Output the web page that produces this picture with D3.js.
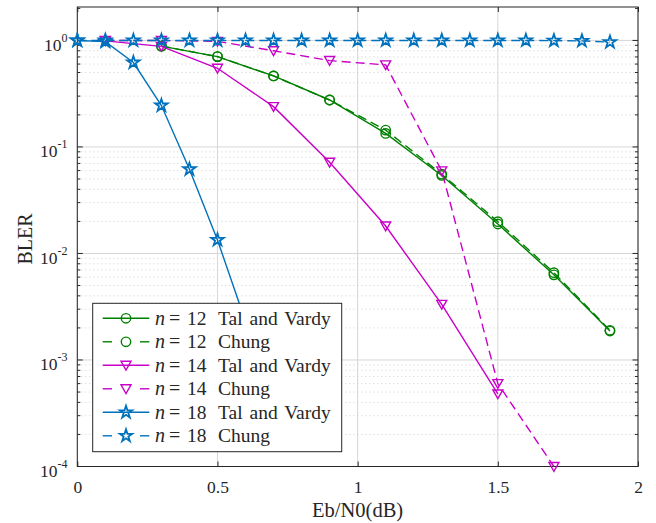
<!DOCTYPE html>
<html>
<head>
<meta charset="utf-8">
<script src="https://cdn.jsdelivr.net/npm/d3@7"></script>
<style>
  html, body { margin: 0; padding: 0; background: #fff; }
  svg { display: block; }
</style>
</head>
<body>
<svg id="chart" width="656" height="523" font-family="Liberation Serif"></svg>
<script>
// Eb/N0 values (dB) per series
const xN12 = [0.3, 0.5, 0.7, 0.9, 1.1, 1.3, 1.5, 1.7, 1.9];
const talVardyN12 = [0.885, 0.705, 0.464, 0.276, 0.134, 0.0540, 0.0189, 0.0063, 0.00187];
const chungN12 = [0.885, 0.705, 0.464, 0.276, 0.144, 0.0555, 0.0199, 0.0066, 0.00190];

const xN14TalVardy = [0.1, 0.3, 0.5, 0.7, 0.9, 1.1, 1.3, 1.5];
const talVardyN14 = [0.99, 0.88, 0.548, 0.239, 0.0718, 0.0181, 0.00333, 0.00048];
const xN14Chung = [0.1, 0.3, 0.5, 0.7, 0.9, 1.1, 1.3, 1.5, 1.7];
const chungN14 = [1.0, 1.0, 0.98, 0.80, 0.647, 0.589, 0.0596, 0.0006, 0.0001];

const xN18TalVardy = [0, 0.1, 0.2, 0.3, 0.4, 0.5, 0.6, 0.7];
const talVardyN18 = [1.0, 0.975, 0.62, 0.245, 0.0617, 0.0134, 0.0023, 0.0003];
const xN18Chung = [0, 0.1, 0.2, 0.3, 0.4, 0.5, 0.6, 0.7, 0.8, 0.9, 1.0, 1.1, 1.2, 1.3, 1.4, 1.5, 1.6, 1.7, 1.8, 1.9];
const chungN18 = [1.0, 1.0, 1.0, 1.0, 1.0, 1.0, 1.0, 1.0, 1.0, 1.0, 1.0, 1.0, 1.0, 1.0, 1.0, 1.0, 1.0, 0.995, 0.99, 0.965];

const seriesNames = [
  ["12", "Tal and Vardy"], ["12", "Chung"],
  ["14", "Tal and Vardy"], ["14", "Chung"],
  ["18", "Tal and Vardy"], ["18", "Chung"]
];

const xTickValues = [0, 0.5, 1, 1.5, 2];
const xTickLabels = ["0", "0.5", "1", "1.5", "2"];
const yDecadeExponents = [0, -1, -2, -3, -4];

const xLabel = "Eb/N0(dB)";
const yLabel = "BLER";

// colours and font
const GREEN = "#008000", MAGENTA = "#c800c8", BLUE = "#0072bd";
const AXIS = "#262626";
const FONT = "Liberation Serif";

const svg = d3.select("#chart");
const plotLeft = 77.3, plotRight = 638, plotTop = 7, plotBottom = 466.5;

const x = d3.scaleLinear().domain([0, 2]).range([plotLeft, plotRight]);
const y = d3.scaleLog().domain([1e-4, 2.06]).range([plotBottom, plotTop]);

// downward triangle marker
const triangleDown = {
  draw(ctx, size) {
    const s = Math.sqrt(size) / 2;
    ctx.moveTo(-s, -s * 0.8);
    ctx.lineTo(s, -s * 0.8);
    ctx.lineTo(0, s * 0.95);
    ctx.closePath();
  }
};

const markerPath = {
  circle: d3.symbol().type(d3.symbolCircle).size(Math.PI * 4.7 * 4.7)(),
  tri: d3.symbol().type(triangleDown).size(100)(),
  star: d3.symbol().type(d3.symbolStar).size(48)()
};

const series = [
  { xs: xN12, ys: talVardyN12, color: GREEN, dash: null, marker: "circle" },
  { xs: xN12, ys: chungN12, color: GREEN, dash: "9,5", marker: "circle" },
  { xs: xN14TalVardy, ys: talVardyN14, color: MAGENTA, dash: null, marker: "tri" },
  { xs: xN14Chung, ys: chungN14, color: MAGENTA, dash: "9,5", marker: "tri" },
  { xs: xN18TalVardy, ys: talVardyN18, color: BLUE, dash: null, marker: "star" },
  { xs: xN18Chung, ys: chungN18, color: BLUE, dash: "9,5", marker: "star" }
];

// ---- grid ----
const grid = svg.append("g");
// minor horizontal grid (dotted)
yDecadeExponents.forEach(e => {
  if (e === 0) return;
  for (let m = 2; m <= 9; m++) {
    const v = m * Math.pow(10, e);
    grid.append("line")
      .attr("x1", plotLeft).attr("x2", plotRight)
      .attr("y1", y(v)).attr("y2", y(v))
      .attr("stroke", "#c4c4c4").attr("stroke-width", 0.8)
      .attr("stroke-dasharray", "1,3");
  }
});
// major horizontal grid
yDecadeExponents.forEach(e => {
  const v = Math.pow(10, e);
  grid.append("line")
    .attr("x1", plotLeft).attr("x2", plotRight)
    .attr("y1", y(v)).attr("y2", y(v))
    .attr("stroke", "#d6d6d6").attr("stroke-width", 1);
});
// vertical grid
xTickValues.forEach(t => {
  grid.append("line")
    .attr("x1", x(t)).attr("x2", x(t))
    .attr("y1", plotTop).attr("y2", plotBottom)
    .attr("stroke", "#d6d6d6").attr("stroke-width", 1);
});

// ---- axes ----
const axes = svg.append("g");
const xAxisBottom = d3.axisBottom(x).tickValues(xTickValues)
  .tickFormat((d, i) => xTickLabels[i]).tickSizeInner(-5).tickSizeOuter(0).tickPadding(14);
const gx = axes.append("g").attr("transform", `translate(0,${plotBottom})`).call(xAxisBottom)
  .attr("font-family", FONT).attr("font-size", 17.5);
gx.select(".domain").remove();
gx.selectAll(".tick line").attr("stroke", AXIS);
gx.selectAll(".tick text").attr("fill", AXIS);

const xAxisTop = d3.axisTop(x).tickValues(xTickValues).tickFormat("").tickSizeInner(-5).tickSizeOuter(0);
const gxt = axes.append("g").attr("transform", `translate(0,${plotTop})`).call(xAxisTop);
gxt.select(".domain").remove();
gxt.selectAll(".tick line").attr("stroke", AXIS);

// y ticks (major + minor), left and right
const yMinor = [];
yDecadeExponents.forEach(e => {
  if (e === 0) return;
  for (let m = 2; m <= 9; m++) yMinor.push(m * Math.pow(10, e));
});
yMinor.push(2);
const yMajor = yDecadeExponents.map(e => Math.pow(10, e));

[[plotLeft, 1], [plotRight, -1]].forEach(([ax, dir]) => {
  yMajor.forEach(v => {
    axes.append("line").attr("x1", ax).attr("x2", ax + dir * 5.5)
      .attr("y1", y(v)).attr("y2", y(v)).attr("stroke", AXIS).attr("stroke-width", 1);
  });
  yMinor.filter(v => y(v) >= plotTop).forEach(v => {
    axes.append("line").attr("x1", ax).attr("x2", ax + dir * 3)
      .attr("y1", y(v)).attr("y2", y(v)).attr("stroke", AXIS).attr("stroke-width", 1);
  });
});

// y tick labels: 10^e
yDecadeExponents.forEach(e => {
  const v = Math.pow(10, e);
  const t = axes.append("text")
    .attr("x", 67.5).attr("y", y(v) + 10.5)
    .attr("text-anchor", "end").attr("font-size", 17.5)
    .attr("font-family", FONT).attr("fill", AXIS);
  t.append("tspan").text("10");
  t.append("tspan").attr("dy", -9).attr("font-size", 12).text(String(e));
});

// box
axes.append("rect")
  .attr("x", plotLeft).attr("y", plotTop)
  .attr("width", plotRight - plotLeft).attr("height", plotBottom - plotTop)
  .attr("fill", "none").attr("stroke", AXIS).attr("stroke-width", 1);

// axis labels
svg.append("text")
  .attr("x", (plotLeft + plotRight) / 2).attr("y", 517)
  .attr("text-anchor", "middle").attr("font-size", 20.5)
  .attr("font-family", FONT).attr("fill", AXIS)
  .text(xLabel);
svg.append("text")
  .attr("transform", `translate(32,239) rotate(-90)`)
  .attr("text-anchor", "middle").attr("font-size", 20)
  .attr("font-family", FONT).attr("fill", AXIS)
  .text(yLabel);

// ---- data ----
const line = d3.line().x(d => x(d[0])).y(d => y(d[1]));
const plot = svg.append("g");
series.forEach(s => {
  const pts = s.xs.map((v, i) => [v, s.ys[i]]);
  const g = plot.append("g");
  g.append("path")
    .attr("d", line(pts))
    .attr("fill", "none").attr("stroke", s.color).attr("stroke-width", 1.4)
    .attr("stroke-dasharray", s.dash);
  g.selectAll("path.mk").data(pts).join("path")
    .attr("class", "mk")
    .attr("d", markerPath[s.marker])
    .attr("transform", d => `translate(${x(d[0])},${y(d[1])})`)
    .attr("fill", "none").attr("stroke", s.color)
    .attr("stroke-width", s.marker === "star" ? 1.8 : 1.4);
});

// ---- legend ----
const lg = svg.append("g").attr("font-family", FONT);
const lx = 92.7, ly = 303.3, lw = 249, lh = 148.4;
lg.append("rect").attr("x", lx).attr("y", ly).attr("width", lw).attr("height", lh)
  .attr("fill", "#fff").attr("stroke", AXIS).attr("stroke-width", 1);
series.forEach((s, i) => {
  const ry = 318.3 + i * 23.5;
  const g = lg.append("g");
  if (s.dash) {
    g.append("line").attr("x1", 102.7).attr("x2", 112).attr("y1", ry).attr("y2", ry)
      .attr("stroke", s.color).attr("stroke-width", 1.4);
    g.append("line").attr("x1", 140).attr("x2", 149.3).attr("y1", ry).attr("y2", ry)
      .attr("stroke", s.color).attr("stroke-width", 1.4);
  } else {
    g.append("line").attr("x1", 102.7).attr("x2", 149.3).attr("y1", ry).attr("y2", ry)
      .attr("stroke", s.color).attr("stroke-width", 1.4);
  }
  g.append("path").attr("d", markerPath[s.marker])
    .attr("transform", `translate(126,${ry})`)
    .attr("fill", "none").attr("stroke", s.color)
    .attr("stroke-width", s.marker === "star" ? 1.8 : 1.4);
  const base = ry + 6.5;
  g.append("text").attr("x", 155).attr("y", base).attr("font-size", 20)
    .attr("font-style", "italic").attr("fill", AXIS).text("n");
  g.append("text").attr("x", 169).attr("y", base).attr("font-size", 20)
    .attr("textLength", 14).attr("fill", AXIS).text("=");
  g.append("text").attr("x", 187).attr("y", base).attr("font-size", 19.5)
    .attr("fill", AXIS).text(seriesNames[i][0]);
  g.append("text").attr("x", 218).attr("y", base).attr("font-size", 19.5)
    .attr("word-spacing", 2).attr("fill", AXIS)
    .text(seriesNames[i][1]);
});
</script>
</body>
</html>
